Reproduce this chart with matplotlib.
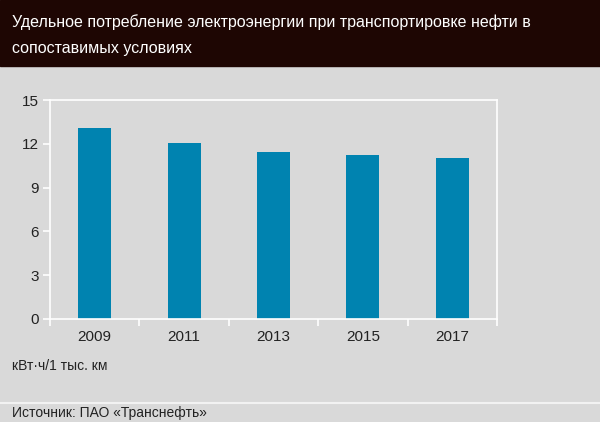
import matplotlib
matplotlib.use("Agg")
import matplotlib.pyplot as plt

plt.rcParams["font.family"] = "Liberation Sans"

categories = ["2009", "2011", "2013", "2015", "2017"]
values = [13.1, 12.05, 11.45, 11.2, 11.0]
yticks = [0, 3, 6, 9, 12, 15]

W, H = 600, 422
fig = plt.figure(figsize=(W/100, H/100), dpi=100)
fig.patch.set_facecolor("#d9d9d9")
fig.patches.append(plt.Rectangle((0, 1-66/H), 1, 66/H, transform=fig.transFigure, color="#1e0603", zorder=0))
fig.text(12/W, 1-22/H, "Удельное потребление электроэнергии при транспортировке нефти в",
         color="white", fontsize=11.5, va="center")
fig.text(12/W, 1-48/H, "сопоставимых условиях", color="white", fontsize=11.5, va="center")
fig.add_artist(plt.Line2D([0, 1], [1-403/H, 1-403/H], color="#f2f2f2", lw=1.5))
fig.text(12/W, 1-413/H, "Источник: ПАО «Транснефть»", fontsize=10, va="center", color="#222222")
fig.text(12/W, 1-366/H, "кВт·ч/1 тыс. км", fontsize=10, va="center", color="#222222")

ax = fig.add_axes([50/W, 1-319/H, 447/W, 219/H])
ax.set_facecolor("#d9d9d9")
x = list(range(len(categories)))
ax.bar(x, values, width=0.37, color="#0083b0", zorder=2)
ax.set_xlim(-0.5, 4.5)
ax.set_ylim(0, 15)
ax.set_yticks(yticks)
ax.set_xticks(x)
ax.set_xticklabels(categories)
ax.set_xticks([i + 0.5 for i in range(-1, 5)], minor=True)
for s in ["left", "top", "right", "bottom"]:
    ax.spines[s].set_color("white")
    ax.spines[s].set_linewidth(1.2)
ax.tick_params(axis="x", which="major", length=0, pad=8, labelsize=11, labelcolor="#222222")
ax.tick_params(axis="x", which="minor", length=5, color="white", width=1.2)
ax.tick_params(axis="y", length=5, color="white", width=1.2, labelsize=11, labelcolor="#222222", pad=3)
fig.savefig("out.png", dpi=100, facecolor=fig.get_facecolor())
